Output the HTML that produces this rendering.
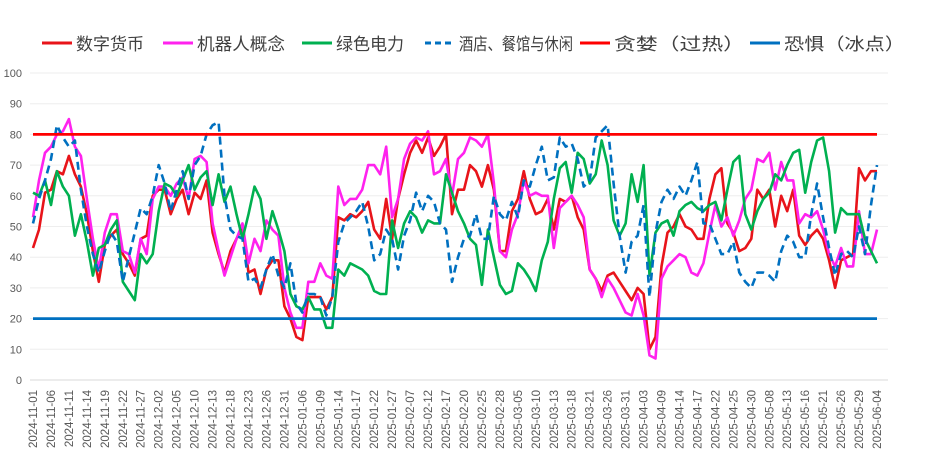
<!DOCTYPE html>
<html><head><meta charset="utf-8"><style>
html,body{margin:0;padding:0;background:#fff;}
svg{display:block;font-family:"Liberation Sans","Noto Sans CJK SC",sans-serif;}
</style></head><body>
<svg id="chart" width="930" height="465" viewBox="0 0 930 465" xmlns="http://www.w3.org/2000/svg">
<g id="legend"></g>
<g id="grid"></g>
<g id="yaxis"></g>
<g id="xaxis"></g>
<g id="series"></g>
</svg>
<script>
const tickLabels = ["2024-11-01","2024-11-06","2024-11-11","2024-11-14","2024-11-19","2024-11-22","2024-11-27","2024-12-02","2024-12-05","2024-12-10","2024-12-13","2024-12-18","2024-12-23","2024-12-26","2024-12-31","2025-01-06","2025-01-09","2025-01-14","2025-01-17","2025-01-22","2025-01-27","2025-02-07","2025-02-12","2025-02-17","2025-02-20","2025-02-25","2025-02-28","2025-03-05","2025-03-10","2025-03-13","2025-03-18","2025-03-21","2025-03-26","2025-03-31","2025-04-03","2025-04-09","2025-04-14","2025-04-17","2025-04-22","2025-04-25","2025-04-30","2025-05-08","2025-05-13","2025-05-16","2025-05-21","2025-05-26","2025-05-29","2025-06-04"];
const yTicks = [0,10,20,30,40,50,60,70,80,90,100];
const digital = [43,49,61,62,68,67,73,67,63,54,42,32,44,47,49,41,38,34,46,47,60,62,62,54,
59,62,54,61,59,65,48,41,35,42,46,50,35,36,28,36,39,39,24,20,14,13,27,27,
27,23,27,53,52,54,53,55,58,49,46,59,46,59,67,74,78,74,79,73,76,80,54,62,
62,70,68,63,70,62,42,42,55,59,68,59,54,55,59,49,59,58,60,53,49,36,33,29,
34,35,32,29,26,30,28,10,14,37,48,50,54,50,49,46,46,59,67,69,51,48,42,43,
46,62,59,62,50,60,55,62,47,44,47,49,46,39,30,39,40,41,69,65,68,68];
const robot = [53,65,74,76,80,81,85,76,73,59,46,36,48,54,54,42,41,35,46,41,59,63,63,60,
64,66,59,72,73,71,51,42,34,40,46,51,38,46,42,52,49,47,30,22,17,17,32,32,
38,34,33,63,57,59,59,62,70,70,67,76,53,59,72,77,79,78,81,67,68,72,60,72,
74,79,78,76,80,64,42,40,49,54,65,60,61,60,60,43,56,58,60,57,53,36,33,27,
33,30,26,22,21,28,21,8,7,33,37,39,41,40,35,34,38,48,57,50,53,47,52,59,
62,72,71,74,62,71,65,65,51,54,53,55,49,41,37,43,37,37,55,41,41,49];
const green = [61,60,65,57,68,63,60,47,54,45,34,43,44,49,52,32,29,26,41,38,41,55,64,63,
60,65,70,62,66,68,57,67,58,63,54,46,54,63,59,46,55,49,42,28,24,23,27,23,
23,17,17,36,34,38,37,36,34,29,28,28,52,43,51,55,53,48,52,51,51,67,61,55,
51,46,44,31,49,40,31,28,29,38,36,33,29,39,45,59,69,71,61,74,72,64,67,78,
70,52,47,51,67,58,70,34,48,51,52,47,55,57,58,56,55,57,58,52,62,71,73,54,
49,55,59,61,67,65,70,74,75,61,71,78,79,68,48,56,54,54,54,46,42,38];
const hotel = [51,59,65,72,83,79,76,78,62,50,41,35,42,48,45,32,40,48,56,54,60,70,64,55,
62,68,59,70,73,80,83,84,60,49,47,46,32,33,30,36,41,34,30,38,25,22,28,28,
27,21,27,45,51,53,55,58,50,39,41,49,46,36,47,52,61,55,60,58,51,49,32,40,
46,47,54,46,46,60,54,52,58,53,65,63,70,76,65,66,79,76,77,72,63,65,79,81,
83,64,47,35,45,47,57,27,48,58,62,59,63,60,65,71,51,51,46,41,41,45,35,32,
30,35,35,34,32,42,47,45,40,40,54,64,53,43,34,41,42,40,50,41,57,70];
const greedLevel = [80];
const fearLevel = [20];
const seriesNames = ["数字货币","机器人概念","绿色电力","酒店、餐馆与休闲","贪婪（过热）","恐惧（冰点）"];

const NS="http://www.w3.org/2000/svg";
const X0=33, X1=877, Y0=380, Y100=73, GX0=30, GX1=888;
const N = digital.length;
function xs(i){return X0+(X1-X0)*i/(N-1);}
function ys(v){return Y0-(Y0-Y100)*v/100;}
function mk(tag,parent){const e=document.createElementNS(NS,tag);parent.appendChild(e);return e;}

const grid=document.getElementById('grid'), yaxis=document.getElementById('yaxis'), xaxis=document.getElementById('xaxis'), sg=document.getElementById('series'), lg=document.getElementById('legend');
yTicks.forEach(t=>{
  const l=mk('line',grid);
  
  
  l.setAttribute('x1',GX0);l.setAttribute('x2',GX1);l.setAttribute('y1',ys(t));l.setAttribute('y2',ys(t));
  l.setAttribute('stroke',t===0?'#d9d9d9':'#eeeeee');l.setAttribute('stroke-width','1');
  const tx=mk('text',yaxis);
  
  
  tx.setAttribute('x',22);tx.setAttribute('y',ys(t)+4);tx.setAttribute('text-anchor','end');
  tx.setAttribute('font-size','11');tx.setAttribute('fill','#595959');tx.textContent=t;
});
tickLabels.forEach((lab,k)=>{
  const i=k*3;
  const x=xs(i);
  const tx=mk('text',xaxis);
  
  
  tx.setAttribute('transform','translate('+(x+4)+',390) rotate(-90)');
  tx.setAttribute('text-anchor','end');tx.setAttribute('font-size','11.5');tx.setAttribute('fill','#595959');
  tx.textContent=lab;
});
function drawSeries(arr,color,name,dash){
  const p=mk('polyline',sg);
  
  
  p.setAttribute('points',arr.map((v,i)=>xs(i).toFixed(1)+','+ys(v).toFixed(1)).join(' '));
  p.setAttribute('fill','none');p.setAttribute('stroke',color);p.setAttribute('stroke-width','2.6');
  p.setAttribute('stroke-linejoin','round');
  if(dash)p.setAttribute('stroke-dasharray',dash);
}
function drawLevel(v,color,name){
  const l=mk('line',sg);
  
  
  l.setAttribute('x1',X0);l.setAttribute('x2',X1);l.setAttribute('y1',ys(v));l.setAttribute('y2',ys(v));
  l.setAttribute('stroke',color);l.setAttribute('stroke-width','2.8');
}
drawSeries(digital,'#e8141a','digital-currency-line');
drawSeries(robot,'#ff22ee','robot-concept-line');
drawSeries(green,'#00b050','green-power-line');
drawSeries(hotel,'#0070c0','hotel-leisure-line','8,5');
drawLevel(greedLevel[0],'#ff0000','greed-level-line');
drawLevel(fearLevel[0],'#0070c0','fear-level-line');

const legendX=[42,163,302,425,580,750];
const legendW=[68,88,68,114,131,121];
const legendColors=['#e8141a','#ff22ee','#00b050','#0070c0','#ff0000','#0070c0'];
seriesNames.forEach((nm,k)=>{
  const g=mk('g',lg);
  
  
  const l=mk('line',g);
  
  
  l.setAttribute('x1',legendX[k]);l.setAttribute('x2',legendX[k]+30);l.setAttribute('y1',43);l.setAttribute('y2',43);
  l.setAttribute('stroke',legendColors[k]);l.setAttribute('stroke-width','3');
  if(k===3)l.setAttribute('stroke-dasharray','6,4');
  const t=mk('text',g);
  
  
  t.setAttribute('x',legendX[k]+34);t.setAttribute('y',50);t.setAttribute('font-size','17');t.setAttribute('fill','#404040');
  t.setAttribute('textLength',legendW[k]);t.setAttribute('lengthAdjust','spacingAndGlyphs');
  t.textContent=nm;
});
</script>
</body></html>
